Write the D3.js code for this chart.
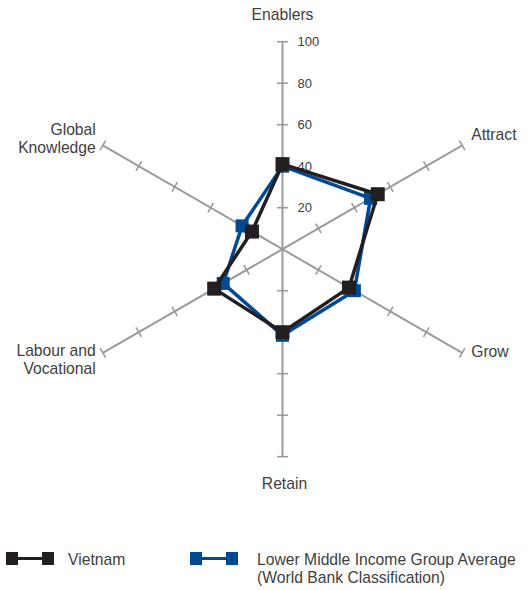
<!DOCTYPE html>
<html><head><meta charset="utf-8">
<script src="https://cdn.jsdelivr.net/npm/d3@7"></script>
<style>body{margin:0;background:#fff}svg{display:block}text{font-family:"Liberation Sans",Arial,sans-serif;fill:#404040}</style>
</head><body><svg id="c" width="528" height="590"></svg>
<script>
const axes = ["Enablers","Attract","Grow","Retain","Labour and Vocational","Global Knowledge"];
const vietnam = [41, 53, 37, 40, 38, 17];
const lmic = [40, 49, 40, 41.5, 33, 22.5];
const tickValues = [20, 40, 60, 80, 100];
const tickLabels = ["20","40","60","80","100"];
const seriesNames = ["Vietnam", "Lower Middle Income Group Average", "(World Bank Classification)"];

const svg = d3.select("#c");
const cx = 282.5, cy = 249.2, R = 207.5;
const FS = 15.7;
const r = d3.scaleLinear().domain([0,100]).range([0,R]);
const ang = d3.scalePoint().domain(axes).range([0, 300]);
function pt(axis, v){ const a = ang(axis)*Math.PI/180; return [cx + r(v)*Math.sin(a), cy - r(v)*Math.cos(a)]; }

const g = svg.append("g");
axes.forEach(ax => {
  const a = ang(ax)*Math.PI/180;
  const [x1,y1] = pt(ax,100);
  g.append("line").attr("x1",cx).attr("y1",cy).attr("x2",x1).attr("y2",y1)
    .attr("stroke","#9b9b9b").attr("stroke-width",2);
  tickValues.forEach(t => {
    const [x,y] = pt(ax,t);
    const px = Math.cos(a)*5.5, py = Math.sin(a)*5.5;
    g.append("line").attr("x1",x-px).attr("y1",y-py).attr("x2",x+px).attr("y2",y+py)
      .attr("stroke","#9b9b9b").attr("stroke-width",1.6);
  });
});
tickValues.forEach((t,i) => {
  const [x,y] = pt(axes[0],t);
  g.append("text").attr("x",x+15).attr("y",y).attr("dy","0.35em")
    .attr("font-size",13).text(tickLabels[i]);
});
const lab = (ax, dx, dy, anchor, lines) => {
  const [x,y] = pt(ax,100);
  const t = g.append("text").attr("font-size",FS).attr("text-anchor",anchor);
  lines.forEach((l,i)=> t.append("tspan").attr("x",x+dx).attr("y",y+dy+i*18).text(l));
};
lab(axes[0], 0, -22, "middle", ["Enablers"]);
lab(axes[1], 9, -5, "start", ["Attract"]);
lab(axes[2], 9, 4, "start", ["Grow"]);
lab(axes[3], 2, 32, "middle", ["Retain"]);
lab(axes[4], -7, 3.5, "end", ["Labour and","Vocational"]);
lab(axes[5], -7, -10, "end", ["Global","Knowledge"]);

const line = d3.line().curve(d3.curveLinearClosed);
function drawSeries(vals, color, sz){
  const pts = axes.map((ax,i)=>pt(ax,vals[i]));
  g.append("path").attr("d", line(pts)).attr("fill","none").attr("stroke",color)
    .attr("stroke-width",3.5).attr("stroke-linejoin","round");
  g.selectAll(null).data(pts).enter().append("rect")
    .attr("x",d=>d[0]-sz/2).attr("y",d=>d[1]-sz/2).attr("width",sz).attr("height",sz).attr("fill",color);
}
drawSeries(lmic, "#004a93", 13);
drawSeries(vietnam, "#231f20", 14);

function legendMark(x, color){
  svg.append("line").attr("x1",x+6).attr("x2",x+42).attr("y1",558.5).attr("y2",558.5)
    .attr("stroke",color).attr("stroke-width",3);
  svg.append("rect").attr("x",x).attr("y",552).attr("width",12).attr("height",13).attr("fill",color);
  svg.append("rect").attr("x",x+36).attr("y",552).attr("width",12).attr("height",13).attr("fill",color);
}
legendMark(6, "#231f20");
legendMark(190, "#004a93");
svg.append("text").attr("x",68).attr("y",564.5).attr("font-size",FS).text(seriesNames[0]);
const lt = svg.append("text").attr("font-size",FS);
lt.append("tspan").attr("x",257).attr("y",564.5).text(seriesNames[1]);
lt.append("tspan").attr("x",257).attr("y",582.5).text(seriesNames[2]);
</script></body></html>
